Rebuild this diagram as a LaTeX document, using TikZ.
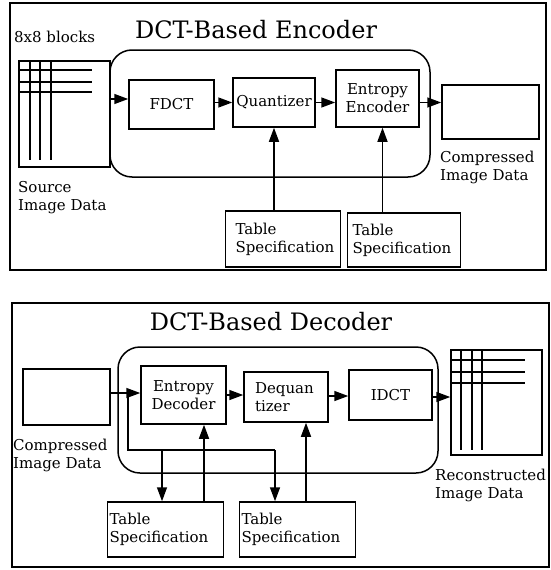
\documentclass[tikz,border=0pt]{standalone}
\usepackage{fontspec}
\setmainfont{DejaVu Serif}
\usetikzlibrary{arrows.meta}
\begin{document}
\begin{tikzpicture}[x=1pt,y=-1pt,
  frame/.style={draw,line width=2pt},
  blk/.style={draw,line width=1.5pt,inner sep=0pt,font=\fontsize{15}{18}\selectfont,align=center},
  tabbox/.style={draw,line width=1.5pt,inner ysep=0pt,font=\fontsize{15}{18}\selectfont,align=left},
  lbl/.style={inner sep=0pt,font=\fontsize{15}{18}\selectfont,align=left},
  ttl/.style={inner sep=0pt,font=\fontsize{24}{28}\selectfont},
  arr/.style={line width=1.5pt,-{Triangle[length=14pt,width=10pt]}},
  ln/.style={line width=1.5pt},
  grid/.style={line width=1.6pt},
  rbox/.style={draw,line width=1.5pt,rounded corners=22pt}]
\useasboundingbox (0,0) rectangle (551,570);

% ================= Encoder =================
\draw[frame] (10,3) rectangle (546,270);
\node[ttl] (etitle) at (256,30) {DCT-Based Encoder};
\node[lbl,anchor=west] (blocks) at (14,37) {8x8 blocks};

\draw[rbox] (110,50) rectangle (430,177);

\node[blk,minimum width=91pt,minimum height=106pt] (src) at (64.5,114) {};
\draw[grid] (30,61) -- (30,160) (40,61) -- (40,160) (51,61) -- (51,160);
\draw[grid] (19,70) -- (92,70) (19,82) -- (92,82) (19,92) -- (92,92);

\node[blk,minimum width=85pt,minimum height=49pt] (fdct) at (171.5,104.5) {FDCT};
\node[blk,minimum width=82pt,minimum height=49pt] (quant) at (274,102.5) {Quantizer};
\node[blk,minimum width=83pt,minimum height=57pt] (entenc) at (377.5,98.5) {Entropy\\Encoder};
\node[blk,minimum width=97pt,minimum height=54pt] (ecomp) at (490.5,112) {};

\node[tabbox,inner xsep=10pt,text width=95pt,minimum height=56pt] (etab1) at (283,239) {Table\\Specification};
\node[tabbox,inner xsep=5pt,text width=103pt,minimum height=54pt] (etab2) at (404,240) {Table\\Specification};

\node[lbl,anchor=north west] (srclbl) at (18,181) {Source\\Image Data};
\node[lbl,anchor=north west] (ecomplbl) at (440,151) {Compressed\\Image Data};

\coordinate (a1) at ([yshift=15pt]src.east);
\draw[arr] (a1) -- (a1 -| fdct.west);
\coordinate (a2) at ([yshift=2pt]fdct.east);
\draw[arr] (a2) -- (a2 -| quant.west);
\coordinate (a3) at (quant.east);
\draw[arr] (a3) -- (a3 -| entenc.west);
\coordinate (a4) at ([yshift=-4pt]entenc.east);
\draw[arr] (a4) -- (a4 -| ecomp.west);

\draw[arr] (quant.south |- etab1.north) -- (quant.south);
\coordinate (a5) at ([xshift=5pt]entenc.south);
\draw[arr] (a5 |- etab2.north) -- (a5);

% ================= Decoder =================
\draw[frame] (12,303) rectangle (549,567);
\node[ttl] (dtitle) at (271,322) {DCT-Based Decoder};

\draw[rbox] (118,347) rectangle (438,473);

\node[blk,minimum width=87pt,minimum height=56pt] (dcomp) at (66.5,397) {};
\node[blk,minimum width=85pt,minimum height=58pt] (entdec) at (183.5,395) {Entropy\\Decoder};
\node[blk,align=left,text width=62pt,inner xsep=11pt,minimum height=50pt] (dequan) at (286,397) {Dequan\\tizer};
\node[blk,minimum width=83pt,minimum height=50pt] (idct) at (390.5,395) {IDCT};
\node[blk,minimum width=91pt,minimum height=105pt] (recon) at (496.5,402.5) {};
\draw[grid] (461,350) -- (461,450) (472,350) -- (472,450) (482,350) -- (482,450);
\draw[grid] (451,360) -- (525,360) (451,372) -- (525,372) (451,383) -- (525,383);

\node[tabbox,inner xsep=2pt,text width=112pt,minimum height=55pt] (dtab1) at (165.5,529.5) {Table\\Specification};
\node[tabbox,inner xsep=2pt,text width=112pt,minimum height=55pt] (dtab2) at (297.5,529.5) {Table\\Specification};

\node[lbl,anchor=north west] (dcomplbl) at (13,439) {Compressed\\Image Data};
\node[lbl,anchor=north west] (reconlbl) at (435,469) {Reconstructed\\Image Data};

\coordinate (b1) at ([yshift=4pt]dcomp.east);
\draw[arr] (b1) -- (b1 -| entdec.west);
\draw[arr] (entdec.east) -- (entdec.east -| dequan.west);
\coordinate (b3) at ([yshift=1pt]dequan.east);
\draw[arr] (b3) -- (b3 -| idct.west);
\coordinate (b4) at ([yshift=-2pt]idct.east);
\draw[arr] (b4) -- (b4 -| recon.west);

\coordinate (br) at (128,393);
\coordinate (bc) at (128,450);
\coordinate (bt1) at (162,450);
\coordinate (bt2) at (275,450);
\draw[ln] (br) -- (bc) -- (bt2);
\draw[arr] (bt1) -- (bt1 |- dtab1.north);
\draw[arr] (bt2) -- (bt2 |- dtab2.north);

\coordinate (u1) at (204,424);
\draw[arr] (u1 |- dtab1.north) -- (u1 |- entdec.south);
\coordinate (u2) at (306,424);
\draw[arr] (u2 |- dtab2.north) -- (u2 |- dequan.south);
\end{tikzpicture}
\end{document}
